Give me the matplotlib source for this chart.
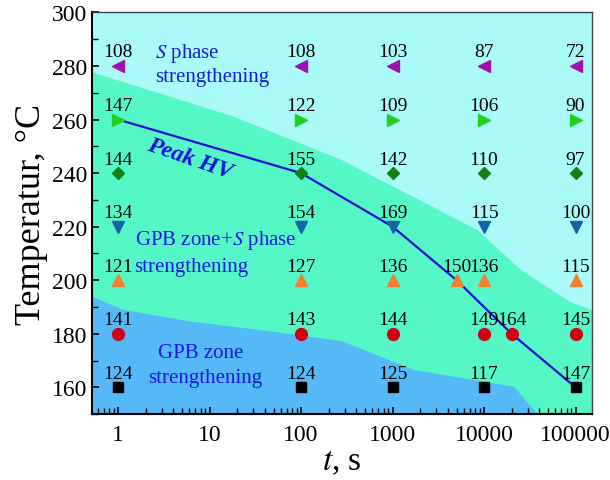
import matplotlib
matplotlib.use("Agg")
import matplotlib.pyplot as plt

plt.rcParams['font.family'] = ['Liberation Serif', 'DejaVu Serif']
plt.rcParams['mathtext.fontset'] = 'stix'

# ageing times (s) and hardness values at each temperature
times = [1, 100, 1000, 10000, 100000]
hv_280 = [108, 108, 103, 87, 72]
hv_260 = [147, 122, 109, 106, 90]
hv_240 = [144, 155, 142, 110, 97]
hv_220 = [134, 154, 169, 115, 100]
hv_200 = [121, 127, 136, 136, 115]
hv_180 = [141, 143, 144, 149, 145]
hv_160 = [124, 124, 125, 117, 147]

# extra points on the peak curve
extra_t = [5000, 20000]
extra_T = [200, 180]
extra_hv = [150, 164]

# peak HV line
peak_t = [1, 100, 1000, 5000, 20000, 100000]
peak_T = [260, 240, 220, 200, 180, 160]

# x tick positions / labels
xtick_vals = [1, 10, 100, 1000, 10000, 100000]
xtick_labels = ['1', '10', '100', '1000', '10000', '100000']

# region boundaries
upper_t = [0.52, 18, 270, 8300, 25000, 87000, 150000]
upper_T = [277.8, 261.3, 245.2, 219, 204, 192, 189]
lower_t = [0.52, 1.1, 6.2, 33, 270, 350, 1660, 21000, 38000]
lower_T = [194, 189.2, 184.7, 181.7, 177.5, 176, 166.7, 160.4, 150]

rows = [
    (280, hv_280, '<', '#a010b0', 9),
    (260, hv_260, '>', '#22d022', 9),
    (240, hv_240, 'D', '#128012', 6.5),
    (220, hv_220, 'v', '#1565a5', 9),
    (200, hv_200, '^', '#f08030', 9),
    (180, hv_180, 'o', '#d00010', 8.5),
    (160, hv_160, 's', 'black', 6.5),
]

fig = plt.figure(figsize=(6.1, 4.81), dpi=100)
ax = fig.add_axes([0.151, 0.137, 0.819, 0.835])
ax.set_xscale('log')
ax.set_xlim(0.52, 150000)
ax.set_ylim(150, 300)

ax.set_facecolor('#aafafa')
ax.fill_between(upper_t, upper_T, 150, color='#55f7c6', lw=0, zorder=0)
ax.fill_between(lower_t, lower_T, 150, color='#55b8f7', lw=0, zorder=0)

ax.plot(peak_t, peak_T, color='#1010d0', lw=1.6, zorder=2)

for temp, vals, mk, col, ms in rows:
    ax.plot(times, [temp] * len(times), ls='none', marker=mk, color=col,
            markersize=ms, zorder=3)
    for t, v in zip(times, vals):
        ax.annotate(str(v), (t, temp), xytext=(0, 4), textcoords='offset points',
                    ha='center', va='bottom', fontsize=14, zorder=4)

extra_style = {200: ('^', '#f08030', 9), 180: ('o', '#d00010', 8.5)}
for t, temp, v in zip(extra_t, extra_T, extra_hv):
    mk, col, ms = extra_style[temp]
    ax.plot([t], [temp], ls='none', marker=mk, color=col, markersize=ms, zorder=3)
    ax.annotate(str(v), (t, temp), xytext=(0, 4), textcoords='offset points',
                ha='center', va='bottom', fontsize=14, zorder=4)

txt_col = '#1818e0'
ax.text(5.7, 285.2, r'$S$ phase', color=txt_col, fontsize=15, ha='center', va='center')
ax.text(10.6, 275.9, 'strengthening', color=txt_col, fontsize=15, ha='center', va='center')
ax.text(6.1, 245.6, 'Peak HV', color='#1010d8', fontsize=17, fontweight='bold',
        fontstyle='italic', rotation=-19, ha='center', va='center')
ax.text(11.8, 215.3, r'GPB zone+$S$ phase', color=txt_col, fontsize=15, ha='center', va='center')
ax.text(6.3, 205.2, 'strengthening', color=txt_col, fontsize=15, ha='center', va='center')
ax.text(7.9, 173, 'GPB zone', color=txt_col, fontsize=15, ha='center', va='center')
ax.text(9, 163.5, 'strengthening', color=txt_col, fontsize=15, ha='center', va='center')

ax.set_yticks(range(160, 301, 20))
ax.set_yticks(range(150, 301, 10), minor=True)
ax.set_xticks(xtick_vals)
ax.set_xticklabels(xtick_labels)
ax.tick_params(axis='both', which='both', direction='in', labelsize=17,
               top=False, right=False)
ax.tick_params(axis='both', which='major', length=5, width=1.2)
ax.tick_params(axis='both', which='minor', length=4, width=1.0)
ax.tick_params(axis='x', which='both', pad=7)
for side in ['left', 'bottom']:
    ax.spines[side].set_linewidth(1.5)
for side in ['top', 'right']:
    ax.spines[side].set_linewidth(1.0)
    ax.spines[side].set_color('#404040')

ax.set_xlabel(r'$t$, s', fontsize=24, labelpad=1)
ax.set_ylabel('Temperatur, °C', fontsize=26, labelpad=3)

fig.savefig('out.png', dpi=100)
